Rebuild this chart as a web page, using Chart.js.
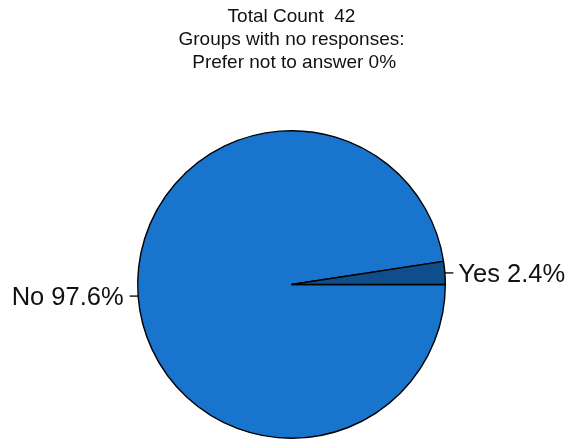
<!DOCTYPE html>
<html>
<head>
<meta charset="utf-8">
<script src="https://cdn.jsdelivr.net/npm/chart.js@4/dist/chart.umd.min.js"></script>
<style>
  html, body { margin: 0; padding: 0; background: #ffffff; }
  #wrap { width: 572px; height: 444px; }
</style>
</head>
<body>
<div id="wrap"><canvas id="c" width="572" height="444"></canvas></div>
<script>
// ---- Data ----
const categories = ['No', 'Yes'];
const percents = [97.6, 2.4];
const sliceColors = ['#1874CD', '#104E8B'];
const titleLines = ['Total Count  42', 'Groups with no responses:', ' Prefer not to answer 0%'];

const FONT = "'Liberation Sans', Arial, Helvetica, sans-serif";
const TEXT_COLOR = '#111111';

const titlePlugin = {
  id: 'titleLines',
  afterDraw(chart) {
    const ctx = chart.ctx;
    const meta = chart.getDatasetMeta(0);
    const cx = meta.data[0].x;
    ctx.save();
    ctx.fillStyle = TEXT_COLOR;
    ctx.font = '19px ' + FONT;
    ctx.textAlign = 'center';
    ctx.textBaseline = 'alphabetic';
    titleLines.forEach((t, i) => {
      ctx.fillText(t, cx, 22 + i * 23.2);
    });
    ctx.restore();
  }
};

const sliceLabelPlugin = {
  id: 'sliceLabels',
  afterDatasetsDraw(chart) {
    const ctx = chart.ctx;
    const meta = chart.getDatasetMeta(0);
    ctx.save();
    ctx.font = '25.5px ' + FONT;
    ctx.fillStyle = TEXT_COLOR;
    ctx.strokeStyle = '#000000';
    ctx.lineWidth = 1.3;
    meta.data.forEach((arc, i) => {
      const p = arc.getProps(['x', 'y', 'startAngle', 'endAngle', 'outerRadius'], true);
      const mid = (p.startAngle + p.endAngle) / 2;
      const cos = Math.cos(mid), sin = Math.sin(mid);
      const right = cos >= 0;
      const x0 = p.x + cos * p.outerRadius;
      const y0 = p.y + sin * p.outerRadius;
      const x1 = x0 + (right ? 8.5 : -8.5);
      ctx.beginPath();
      ctx.moveTo(x0, y0);
      ctx.lineTo(x1, y0);
      ctx.stroke();
      const label = categories[i] + ' ' + percents[i].toFixed(1) + '%';
      ctx.textAlign = right ? 'left' : 'right';
      ctx.textBaseline = 'alphabetic';
      ctx.fillText(label, x1 + (right ? 5 : -6), y0 + 9.3);
    });
    ctx.restore();
  }
};

new Chart(document.getElementById('c'), {
  type: 'pie',
  data: {
    labels: categories,
    datasets: [{
      data: percents,
      backgroundColor: sliceColors,
      borderColor: '#000000',
      borderWidth: 1.4,
      borderAlign: 'center'
    }]
  },
  options: {
    responsive: false,
    animation: false,
    devicePixelRatio: 1,
    rotation: 90,
    layout: { padding: { top: 130, bottom: 5, left: 137, right: 126 } },
    plugins: {
      legend: { display: false },
      title: { display: false },
      tooltip: { enabled: false }
    }
  },
  plugins: [titlePlugin, sliceLabelPlugin]
});
</script>
</body>
</html>
